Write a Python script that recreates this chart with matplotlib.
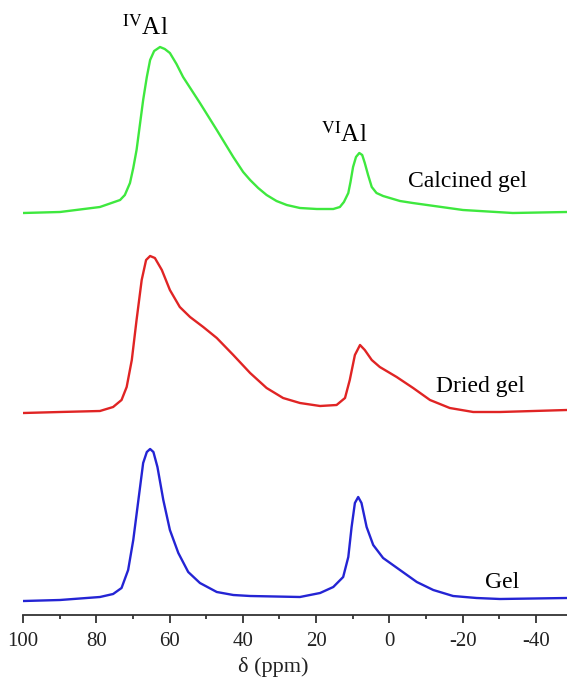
import matplotlib
matplotlib.use('Agg')
import matplotlib.pyplot as plt
from matplotlib.ticker import MultipleLocator

plt.rcParams['font.family'] = ['Liberation Serif', 'DejaVu Serif']
plt.rcParams['mathtext.fontset'] = 'stix'
plt.rcParams['axes.unicode_minus'] = False

# 27Al NMR spectra, chemical shift (ppm) and intensity (arbitrary, stacked)
gel_ppm = [99.9, 89.9, 79.0, 75.4, 73.1, 71.3, 69.9, 68.5, 67.2, 66.2, 65.3,
           64.4, 63.3, 61.7, 59.9, 57.6, 54.9, 51.7, 47.1, 42.6, 38.0, 24.4,
           18.9, 15.3, 12.6, 11.2, 10.3, 9.4, 8.5, 7.6, 6.2, 4.4, 1.7, -2.9,
           -7.5, -12.0, -17.4, -23.8, -30.2, -48.5]
gel_int = [14, 15, 18, 21, 27, 45, 75, 115, 152, 163, 166,
           163, 148, 115, 85, 62, 43, 32, 23, 20, 19, 18,
           22, 28, 38, 58, 88, 112, 118, 112, 88, 70, 57, 45,
           33, 25, 19, 17, 16, 17]

dried_ppm = [99.9, 89.9, 79.0, 75.4, 73.1, 71.7, 70.3, 69.0, 67.6, 66.4, 65.3,
             64.0, 62.1, 59.9, 57.2, 54.4, 50.8, 47.1, 42.6, 38.0, 33.5, 29.0,
             24.4, 18.9, 14.4, 12.1, 10.8, 9.4, 8.0, 6.7, 4.8, 2.6, -2.0, -6.5,
             -11.1, -16.5, -22.9, -30.2, -48.5]
dried_int = [202, 203, 204, 208, 215, 228, 255, 295, 335, 355, 359,
             357, 345, 325, 308, 298, 288, 277, 260, 242, 227, 217,
             212, 209, 210, 217, 235, 260, 270, 265, 255, 248, 238, 227,
             215, 207, 203, 203, 205]

calc_ppm = [100.0, 89.9, 79.0, 73.5, 72.2, 70.8, 69.9, 69.0, 68.1, 67.2, 66.2,
            65.3, 64.2, 62.6, 61.3, 59.9, 58.1, 56.3, 51.7, 47.1, 42.6, 39.9,
            38.0, 35.8, 33.5, 30.8, 28.0, 24.4, 19.8, 15.3, 13.5, 12.4, 11.2,
            10.6, 9.9, 9.1, 8.2, 7.4, 6.7, 5.8, 4.8, 3.5, 1.7, -2.9, -6.4,
            -20.1, -33.7, -48.5]
calc_int = [402, 403, 408, 415, 420, 432, 447, 465, 490, 515, 538,
            555, 564, 568, 566, 562, 551, 538, 512, 485, 458, 443,
            435, 427, 420, 414, 410, 407, 406, 406, 408, 413, 422,
            433, 448, 458, 462, 460, 452, 440, 428, 422, 419, 414, 412,
            405, 402, 403]

sample_labels = ['Calcined gel', 'Dried gel', 'Gel']

fig = plt.figure(figsize=(5.67, 6.79), dpi=100)
ax = fig.add_axes([23 / 567, 64 / 679, 544 / 567, 615 / 679])

ax.plot(gel_ppm, gel_int, color='#2424d4', lw=1.7, solid_joinstyle='round')
ax.plot(dried_ppm, dried_int, color='#e02424', lw=1.7, solid_joinstyle='round')
ax.plot(calc_ppm, calc_int, color='#3ee83e', lw=1.7, solid_joinstyle='round')

ax.set_xlim(100, -48.5)
ax.set_ylim(0, 615)

# labels
ax.text(72.9, 580, r'$^{\mathrm{IV}}$Al', fontsize=18, ha='left', va='baseline')
ax.text(18.6, 473, r'$^{\mathrm{VI}}$Al', fontsize=18, ha='left', va='baseline')
ax.text(-5.1, 428, sample_labels[0], fontsize=17, ha='left', va='baseline')
ax.text(-12.7, 223, sample_labels[1], fontsize=17, ha='left', va='baseline')
ax.text(-26.1, 27, sample_labels[2], fontsize=17, ha='left', va='baseline')

for s in ['top', 'left', 'right']:
    ax.spines[s].set_visible(False)
ax.spines['bottom'].set_linewidth(1.3)
ax.spines['bottom'].set_color('#333333')
ax.set_yticks([])
ax.xaxis.set_major_locator(MultipleLocator(20))
ax.xaxis.set_minor_locator(MultipleLocator(10))
ax.tick_params(axis='x', which='major', length=6, width=1.3, color='#333333',
               labelsize=15, pad=6, labelcolor='#222222')
ax.tick_params(axis='x', which='minor', length=3, width=1.3, color='#333333')
ax.set_xlabel('δ (ppm)', fontsize=16, color='#222222')
ax.xaxis.set_label_coords(0.46, -0.068)

plt.savefig('out.png', dpi=100)
